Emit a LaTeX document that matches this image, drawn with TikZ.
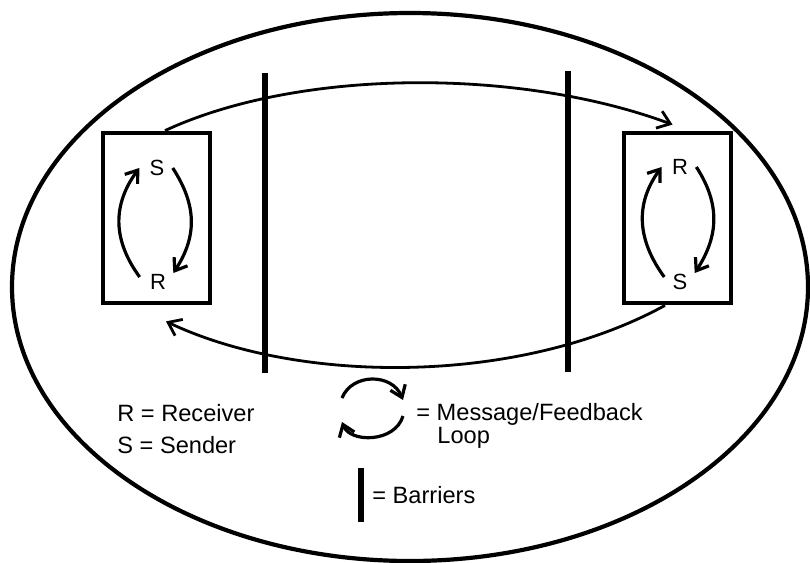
\documentclass[tikz,border=0pt]{standalone}
\usepackage{fontspec}
\setmainfont{Liberation Sans}
\usetikzlibrary{arrows.meta,positioning}

\begin{document}
\begin{tikzpicture}[
    x=0.5pt,
    y=-0.5pt,
    every node/.style={
        inner sep=0pt,
        font=\fontsize{11.8}{14}\selectfont
    },
    party/.style={
        draw,
        line width=2.4pt,
        minimum width=53.5pt,
        minimum height=85pt
    },
    role/.style={font=\fontsize{11}{13}\selectfont},
    barrier/.style={line width=2.8pt},
    msg/.style={line width=1.4pt,-{Straight Barb[length=6pt,width=9pt]}},
    loopline/.style={line width=1.6pt,-{Straight Barb[length=5.5pt,width=8pt]}}
]

\useasboundingbox (0,0) rectangle (810,563);

\draw[line width=2.1pt] (410,287) ellipse [x radius=398, y radius=274];

\node[party] (lbox) at (156.5,218) {};
\node[party] (rbox) at (677.5,218) {};

\node[role] (lS) at (157,168) {S};
\node[role] (lR) at (158,282) {R};
\node[role] (rR) at (680,167) {R};
\node[role] (rS) at (680,282) {S};

\draw[loopline] ([xshift=-5pt,yshift=2.5pt]lR.west) .. controls +(-27,-37) and +(-27,37) .. ([xshift=-5pt]lS.west);
\draw[loopline] ([xshift=4pt]lS.east) .. controls +(24,37) and +(24,-37) .. ([xshift=3.5pt,yshift=4.5pt]lR.east);
\draw[loopline] ([xshift=-4pt,yshift=2.5pt]rS.west) .. controls +(-27,-37) and +(-27,37) .. ([xshift=-5pt]rR.west);
\draw[loopline] ([xshift=4pt]rR.east) .. controls +(24,37) and +(24,-37) .. ([xshift=3.5pt,yshift=4.5pt]rS.east);

\draw[barrier] (265,73) -- (265,373);
\draw[barrier] (568,71) -- (568,372);

\draw[msg] ([xshift=4.25pt]lbox.north) .. controls (300,68) and (520,68) .. ([xshift=-2.5pt,yshift=3pt]rbox.north);
\draw[msg] ([xshift=-6.25pt]rbox.south) .. controls (520,385) and (300,385) .. ([xshift=4.75pt,yshift=-8pt]lbox.south);

\node[anchor=base west] (rkey) at (117,421) {R = Receiver};
\node[anchor=base west] (skey) at (117,453) {S = Sender};

\draw[loopline] (342,398) .. controls (352,373) and (392,373) .. (403,400);
\draw[loopline] (403,416) .. controls (395,443) and (350,443) .. (342,422);
\node[anchor=base west] (msgkey) at (416,420) {= Message/Feedback};
\node[anchor=base west] (loopkey) at (437,443) {Loop};

\draw[barrier] (361,468) -- (361,522);
\node[anchor=base west] (barkey) at (372,503) {= Barriers};

\end{tikzpicture}
\end{document}
